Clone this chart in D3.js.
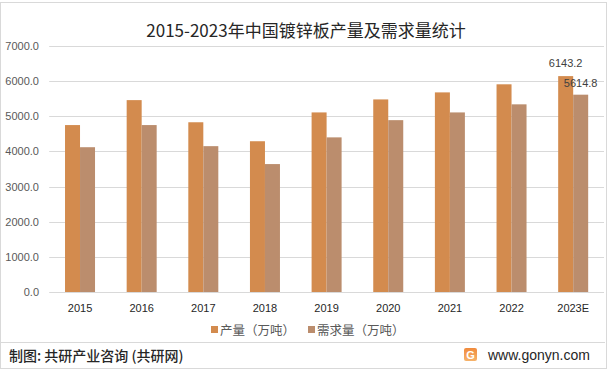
<!DOCTYPE html>
<html><head><meta charset="utf-8">
<script src="https://cdn.jsdelivr.net/npm/d3@7"></script>
<style>body{margin:0;background:#fff}svg{display:block}</style>
</head><body>
<script>
const categories = ["2015","2016","2017","2018","2019","2020","2021","2022","2023E"];
const production = [4750, 5460, 4830, 4290, 5110, 5480, 5680, 5910, 6143.2];
const demand = [4120, 4750, 4150, 3640, 4400, 4890, 5110, 5340, 5614.8];
const yTicks = [0,1000,2000,3000,4000,5000,6000,7000];
const seriesNames = ["产量（万吨）","需求量（万吨）"];
const colors = ["#D38B4E","#BB8D6D"];

const W=612,H=370;
const svg=d3.select("body").append("svg").attr("width",W).attr("height",H);
const font="'Liberation Sans','Noto Sans CJK SC',sans-serif";
svg.append("rect").attr("x",0.5).attr("y",2.5).attr("width",W-6).attr("height",H-4)
  .attr("fill","#fff").attr("stroke","#d9d9d9");

svg.append("text").attr("x",306).attr("y",37).attr("text-anchor","middle")
  .attr("font-family","'Noto Sans CJK SC',sans-serif").attr("font-size",17).attr("fill","#262626")
  .text("2015-2023年中国镀锌板产量及需求量统计");

const x=d3.scaleBand().domain(categories).range([49.2,604]);
const y=d3.scaleLinear().domain([0,7000]).range([292,46]);
const bw=15;

const g=svg.append("g");
g.selectAll("line.grid").data(yTicks).join("line").attr("class","grid")
  .attr("x1",49.2).attr("x2",604).attr("y1",d=>Math.round(y(d))+0.5).attr("y2",d=>Math.round(y(d))+0.5)
  .attr("stroke","#d9d9d9").attr("stroke-width",1);

const yAxis=d3.axisLeft(y).tickValues(yTicks).tickFormat(d3.format(".1f")).tickSize(0).tickPadding(0);
const ya=svg.append("g").attr("transform","translate(39,0)").call(yAxis);
ya.select(".domain").remove();
ya.selectAll("text").attr("font-family",font).attr("font-size",11).attr("fill","#595959");

const xAxis=d3.axisBottom(x).tickSize(0).tickPadding(0);
const xa=svg.append("g").attr("transform","translate(0,304)").call(xAxis);
xa.select(".domain").remove();
xa.selectAll("text").attr("font-family",font).attr("font-size",11).attr("fill","#262626").attr("dy","0.71em");

const series=[production,demand];
series.forEach((vals,si)=>{
  g.selectAll("rect.s"+si).data(vals).join("rect").attr("class","s"+si)
    .attr("x",(d,i)=>x(categories[i])+x.bandwidth()/2-bw+si*bw)
    .attr("width",bw)
    .attr("y",d=>y(d)).attr("height",d=>y(0)-y(d))
    .attr("fill",colors[si]);
});

// data labels for last category
const li=categories.length-1;
[[production,0,-9],[demand,1,-8]].forEach(([vals,si,off])=>{
  svg.append("text").attr("x",x(categories[li])+x.bandwidth()/2-bw+si*bw+bw/2)
    .attr("y",y(vals[li])+off).attr("text-anchor","middle")
    .attr("font-family",font).attr("font-size",11).attr("fill","#404040")
    .text(vals[li].toFixed(1));
});

// legend
const lg=svg.append("g");
const legX=[211,308];
seriesNames.forEach((n,i)=>{
  lg.append("rect").attr("x",legX[i]).attr("y",326).attr("width",7).attr("height",7).attr("fill",colors[i]);
  lg.append("text").attr("x",legX[i]+9).attr("y",334.5).attr("font-family","'Noto Sans CJK SC',sans-serif")
    .attr("font-size",12.5).attr("fill","#595959").text(n);
});

// footer
svg.append("line").attr("x1",1).attr("x2",605).attr("y1",342.5).attr("y2",342.5).attr("stroke","#d9d9d9");
svg.append("text").attr("x",9).attr("y",360.5).attr("font-family","'Noto Sans CJK SC',sans-serif")
  .attr("font-size",14).attr("font-weight",500).attr("fill","#262626").text("制图: 共研产业咨询 (共研网)");
const grad=svg.append("defs").append("linearGradient").attr("id","lg").attr("x1",0).attr("y1",0).attr("x2",0).attr("y2",1);
grad.append("stop").attr("offset",0).attr("stop-color","#F08A3C");
grad.append("stop").attr("offset",1).attr("stop-color","#F6B36B");
svg.append("rect").attr("x",464).attr("y",348).attr("width",13).attr("height",13).attr("rx",2).attr("fill","url(#lg)");
svg.append("text").attr("x",470.5).attr("y",358.5).attr("text-anchor","middle").attr("font-family",font)
  .attr("font-weight","bold").attr("font-size",11).attr("fill","#fff").text("G");
svg.append("text").attr("x",488).attr("y",360).attr("font-family","'Liberation Sans',sans-serif")
  .attr("font-size",14).attr("fill","#262626").text("www.gonyn.com");
</script>
</body></html>
